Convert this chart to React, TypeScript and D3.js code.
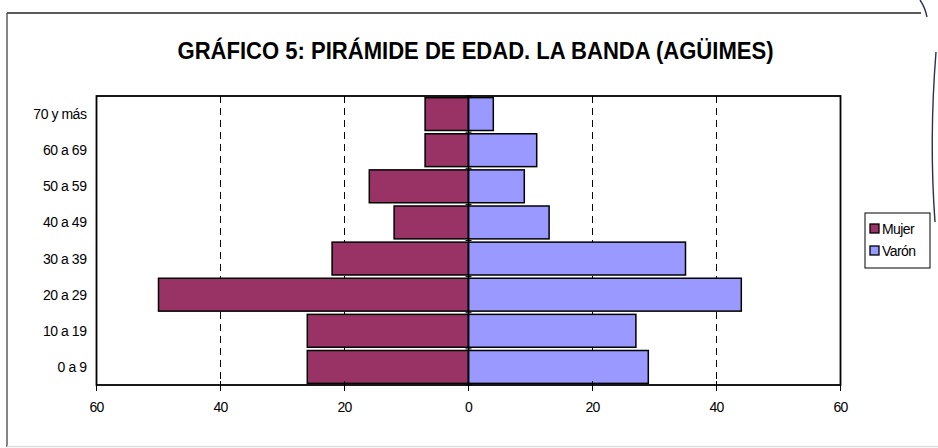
import React from "react";
import * as d3 from "d3";

const categories = ["0 a 9", "10 a 19", "20 a 29", "30 a 39", "40 a 49", "50 a 59", "60 a 69", "70 y más"];
const mujer = [26, 26, 50, 22, 12, 16, 7, 7];
const varon = [29, 27, 44, 35, 13, 9, 11, 4];
const xTicks = [-60, -40, -20, 0, 20, 40, 60];
const seriesNames = ["Mujer", "Varón"];
const title = "GRÁFICO 5: PIRÁMIDE DE EDAD. LA BANDA (AGÜIMES)";

const W = 938;
const H = 448;
const plot = { left: 96.5, right: 840.5, top: 96, bottom: 385 };
const colors = ["#993366", "#9999FF"];
const font = "Arial, 'Liberation Sans', Helvetica, sans-serif";

export default function App() {
  const x = d3.scaleLinear().domain([-60, 60]).range([plot.left, plot.right]);
  const y = d3
    .scaleBand<string>()
    .domain([...categories].reverse())
    .range([plot.top, plot.bottom])
    .paddingInner(0.09)
    .paddingOuter(0.045);
  const bw = y.bandwidth();
  const x0 = x(0);

  return (
    <svg
      width={W}
      height={H}
      style={{ position: "absolute", left: 0, top: 0, background: "#fff" }}
      fontFamily={font}
    >
      {/* outer chart frame */}
      <line x1={7} y1={13} x2={921} y2={13} stroke="#222" strokeWidth={1.3} />
      <line x1={7} y1={13} x2={7} y2={447} stroke="#444" strokeWidth={1.3} />
      <line x1={7} y1={446.5} x2={938} y2={446.5} stroke="#ddd" strokeWidth={1.5} />
      {/* stray scan curve at right edge */}
      <path d="M 920 0 Q 925 7 927 17" fill="none" stroke="#2a2f55" strokeWidth={1.4} />
      <path d="M 936 52 Q 929 140 935 222" fill="none" stroke="#2a2f55" strokeWidth={1.4} />

      {/* title */}
      <text
        x={475.5}
        y={58.5}
        textAnchor="middle"
        fontSize={24}
        fontWeight="bold"
        textLength={596}
        lengthAdjust="spacingAndGlyphs"
        fill="#000"
      >
        {title}
      </text>

      {/* gridlines */}
      {xTicks
        .filter((t) => t !== 0 && Math.abs(t) !== 60)
        .map((t) => (
          <line
            key={"g" + t}
            x1={x(t)}
            x2={x(t)}
            y1={plot.top}
            y2={plot.bottom}
            stroke="#000"
            strokeWidth={1}
            strokeDasharray="7,5"
          />
        ))}

      {/* bars */}
      {categories.map((c, i) => (
        <g key={c}>
          <rect
            x={x(-mujer[i])}
            y={y(c)}
            width={x0 - x(-mujer[i])}
            height={bw}
            fill={colors[0]}
            stroke="#000"
            strokeWidth={1.5}
          />
          <rect
            x={x0}
            y={y(c)}
            width={x(varon[i]) - x0}
            height={bw}
            fill={colors[1]}
            stroke="#000"
            strokeWidth={1.5}
          />
        </g>
      ))}

      {/* category axis at zero */}
      <line x1={x0} x2={x0} y1={plot.top} y2={plot.bottom} stroke="#000" strokeWidth={1.5} />
      {d3.range(categories.length + 1).map((k) => {
        const yy = plot.top + ((plot.bottom - plot.top) / categories.length) * k;
        return <line key={"ct" + k} x1={x0 - 3} x2={x0 + 3} y1={yy} y2={yy} stroke="#000" strokeWidth={1} />;
      })}

      {/* plot frame */}
      <rect
        x={plot.left}
        y={plot.top}
        width={plot.right - plot.left}
        height={plot.bottom - plot.top}
        fill="none"
        stroke="#000"
        strokeWidth={1.8}
      />

      {/* x ticks */}
      {xTicks.map((t) => (
        <g key={"t" + t}>
          <line x1={x(t)} x2={x(t)} y1={plot.bottom - 4} y2={plot.bottom + 6} stroke="#000" strokeWidth={1} />
          <text
            x={x(t)}
            y={412}
            textAnchor="middle"
            fontSize={14}
            letterSpacing={-0.7}
            fill="#000"
          >
            {Math.abs(t)}
          </text>
        </g>
      ))}

      {/* category labels */}
      {categories.map((c) => (
        <text
          key={"l" + c}
          x={86.5}
          y={(y(c) as number) + bw / 2 + 5}
          textAnchor="end"
          fontSize={14}
          letterSpacing={-0.45}
          fill="#000"
        >
          {c}
        </text>
      ))}

      {/* legend */}
      <rect x={865} y={213} width={65} height={55} fill="#fff" stroke="#000" strokeWidth={1} />
      {seriesNames.map((s, i) => (
        <g key={s}>
          <rect
            x={870}
            y={224 + i * 22}
            width={9}
            height={9}
            fill={colors[i]}
            stroke="#000"
            strokeWidth={1.3}
          />
          <text x={882} y={234 + i * 22} fontSize={14} letterSpacing={-0.6} fill="#000">
            {s}
          </text>
        </g>
      ))}
    </svg>
  );
}
